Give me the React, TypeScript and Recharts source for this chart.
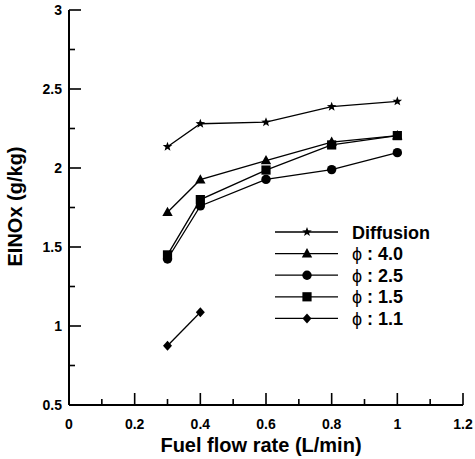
import { LineChart, Line, XAxis, YAxis, Legend } from "recharts";

const flowRates = [0.3, 0.4, 0.6, 0.8, 1.0];
const diffusion = [2.135, 2.28, 2.29, 2.388, 2.422];
const phi40 = [1.72, 1.926, 2.047, 2.164, 2.205];
const phi25 = [1.424, 1.76, 1.928, 1.99, 2.097];
const phi15 = [1.45, 1.8, 1.987, 2.146, 2.205];
const phi11 = [0.875, 1.087, null, null, null];

const X_TICKS = [0, 0.1, 0.2, 0.3, 0.4, 0.5, 0.6, 0.7, 0.8, 0.9, 1.0, 1.1, 1.2];
const Y_TICKS = [0.5, 0.75, 1, 1.25, 1.5, 1.75, 2, 2.25, 2.5, 2.75, 3];

type Shape = "star" | "triangle" | "circle" | "square" | "diamond";

const SERIES: { key: string; name: string; shape: Shape; values: (number | null)[] }[] = [
  { key: "diffusion", name: "Diffusion", shape: "star", values: diffusion },
  { key: "phi40", name: "ϕ : 4.0", shape: "triangle", values: phi40 },
  { key: "phi25", name: "ϕ : 2.5", shape: "circle", values: phi25 },
  { key: "phi15", name: "ϕ : 1.5", shape: "square", values: phi15 },
  { key: "phi11", name: "ϕ : 1.1", shape: "diamond", values: phi11 },
];

const data = flowRates.map((x, i) => {
  const row: Record<string, number | null> = { x };
  for (const s of SERIES) row[s.key] = s.values[i];
  return row;
});

const FONT = "'Liberation Sans', Arial, Helvetica, sans-serif";
const MAJOR = 12;
const MINOR = 6;
const TW = 1.6; // tick thickness

function Marker({ shape, cx, cy }: { shape: Shape; cx: number; cy: number }) {
  if (shape === "star") {
    const pts: string[] = [];
    for (let i = 0; i < 10; i++) {
      const r = i % 2 === 0 ? 5 : 2.1;
      const a = -Math.PI / 2 + (i * Math.PI) / 5;
      pts.push(`${cx + r * Math.cos(a)},${cy + r * Math.sin(a)}`);
    }
    return <polygon points={pts.join(" ")} fill="#000" />;
  }
  if (shape === "triangle") {
    return <polygon points={`${cx},${cy - 5.5} ${cx + 5.2},${cy + 3.8} ${cx - 5.2},${cy + 3.8}`} fill="#000" />;
  }
  if (shape === "circle") return <circle cx={cx} cy={cy} r={4.7} fill="#000" />;
  if (shape === "square") return <rect x={cx - 4.6} y={cy - 4.6} width={9.2} height={9.2} fill="#000" />;
  return <polygon points={`${cx},${cy - 5} ${cx + 4.5},${cy} ${cx},${cy + 5} ${cx - 4.5},${cy}`} fill="#000" />;
}

const isMajorX = (v: number) => Math.round(v * 10) % 2 === 0;
const isMajorY = (v: number) => Math.round(v * 4) % 2 === 0;

// inward tick marks as thin filled rects, labels only on the major ones
function BottomTick({ x, y, payload }: any) {
  const major = isMajorX(payload.value);
  const len = major ? MAJOR : MINOR;
  return (
    <g>
      <rect x={x - TW / 2} y={y - len} width={TW} height={len} fill="#000" />
      {major && (
        <text x={x} y={y + 23.5} textAnchor="middle" fontSize={14} fontWeight="bold" fontFamily={FONT} fill="#000">
          {String(payload.value)}
        </text>
      )}
    </g>
  );
}

function TopTick({ x, y, payload }: any) {
  const len = isMajorX(payload.value) ? MAJOR : MINOR;
  return <rect x={x - TW / 2} y={y} width={TW} height={len} fill="#000" />;
}

function LeftTick({ x, y, payload }: any) {
  const major = isMajorY(payload.value);
  const len = major ? MAJOR : MINOR;
  return (
    <g>
      <rect x={x} y={y - TW / 2} width={len} height={TW} fill="#000" />
      {major && (
        <text x={x - 7} y={y + 5} textAnchor="end" fontSize={14} fontWeight="bold" fontFamily={FONT} fill="#000">
          {String(payload.value)}
        </text>
      )}
    </g>
  );
}

function RightTick({ x, y, payload }: any) {
  const len = isMajorY(payload.value) ? MAJOR : MINOR;
  return <rect x={x - len} y={y - TW / 2} width={len} height={TW} fill="#000" />;
}

function LegendBox() {
  return (
    <svg width={190} height={120} style={{ display: "block", overflow: "visible" }}>
      {SERIES.map((s, i) => {
        const cy = 12 + i * 21.6;
        const [head, tail] = s.name.startsWith("ϕ") ? ["ϕ", s.name.slice(1)] : ["", s.name];
        return (
          <g key={s.key}>
            <line x1={5} x2={68} y1={cy} y2={cy} stroke="#000" strokeWidth={1.3} />
            <Marker shape={s.shape} cx={37} cy={cy} />
            <text x={82} y={cy + 6.5} fontSize={18} fontWeight="bold" fontFamily={FONT} fill="#000">
              {head && <tspan fontWeight="normal">{head}</tspan>}
              {tail}
            </text>
          </g>
        );
      })}
    </svg>
  );
}

export default function App() {
  return (
    <div style={{ position: "absolute", left: 0, top: 0, background: "#fff" }}>
      <LineChart width={475} height={459} data={data} margin={{ top: 10, right: 12, bottom: 0, left: 0 }}>
        <XAxis
          dataKey="x"
          type="number"
          domain={[0, 1.2]}
          ticks={X_TICKS}
          interval={0}
          height={54}
          tickSize={0}
          tickMargin={0}
          tickLine={false}
          tick={BottomTick}
          axisLine={{ stroke: "#000", strokeWidth: 2 }}
          label={{
            content: ({ viewBox }: any) => (
              <text
                x={viewBox.x + viewBox.width / 2 - 5}
                y={viewBox.y + viewBox.height - 7.5}
                textAnchor="middle"
                fontSize={20}
                fontWeight="bold"
                fontFamily={FONT}
                fill="#000"
              >
                Fuel flow rate (L/min)
              </text>
            ),
          }}
        />
        <XAxis
          xAxisId="top"
          orientation="top"
          type="number"
          domain={[0, 1.2]}
          ticks={X_TICKS}
          interval={0}
          height={0}
          tickSize={0}
          tickMargin={0}
          tickLine={false}
          tick={TopTick}
          axisLine={{ stroke: "#000", strokeWidth: 2 }}
        />
        <YAxis
          type="number"
          domain={[0.5, 3]}
          ticks={Y_TICKS}
          interval={0}
          width={69}
          tickSize={0}
          tickMargin={0}
          tickLine={false}
          tick={LeftTick}
          axisLine={{ stroke: "#000", strokeWidth: 2 }}
          label={{
            content: ({ viewBox }: any) => {
              const cx = viewBox.x + 15;
              const cy = viewBox.y + viewBox.height / 2 - 1;
              return (
                <text
                  x={cx}
                  y={cy}
                  transform={`rotate(-90, ${cx}, ${cy})`}
                  textAnchor="middle"
                  dominantBaseline="central"
                  fontSize={20}
                  fontWeight="bold"
                  fontFamily={FONT}
                  fill="#000"
                >
                  EINOx (g/kg)
                </text>
              );
            },
          }}
        />
        <YAxis
          yAxisId="right"
          orientation="right"
          type="number"
          domain={[0.5, 3]}
          ticks={Y_TICKS}
          interval={0}
          width={0}
          tickSize={0}
          tickMargin={0}
          tickLine={false}
          tick={RightTick}
          axisLine={{ stroke: "#000", strokeWidth: 2 }}
        />
        <Legend
          layout="vertical"
          align="center"
          verticalAlign="middle"
          content={LegendBox}
          wrapperStyle={{ position: "absolute", left: 270, top: 220, width: 190, height: 120 }}
        />
        {SERIES.map((s) => (
          <Line
            key={s.key}
            dataKey={s.key}
            name={s.name}
            stroke="#000"
            strokeWidth={1.3}
            isAnimationActive={false}
            legendType="line"
            dot={(p: any) =>
              p.cx == null || p.cy == null || p.value == null ? (
                <g key={`${s.key}-${p.index}`} />
              ) : (
                <Marker key={`${s.key}-${p.index}`} shape={s.shape} cx={p.cx} cy={p.cy} />
              )
            }
            activeDot={false}
          />
        ))}
      </LineChart>
    </div>
  );
}
